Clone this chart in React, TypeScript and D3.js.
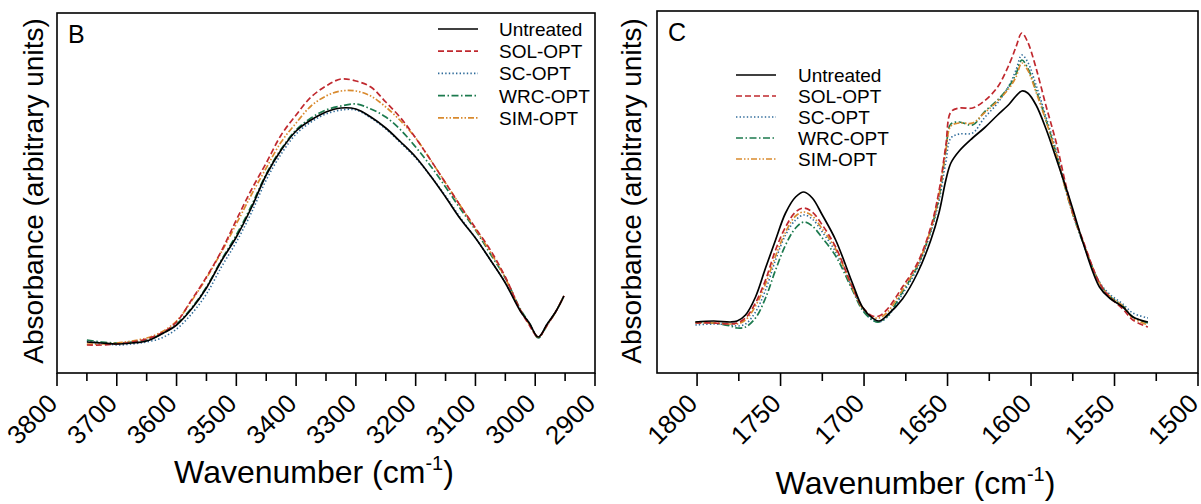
import React from 'react';
import * as d3 from 'd3';

// ---------- DATA ----------
const seriesNames = ['Untreated', 'SOL-OPT', 'SC-OPT', 'WRC-OPT', 'SIM-OPT'];

// Panel B (O–H / N–H stretching region), absorbance in arbitrary units
const wavenumberB = [3750, 3725, 3700, 3675, 3650, 3625, 3600, 3575, 3550, 3525, 3500, 3475, 3450, 3425, 3400, 3375, 3350, 3325, 3300, 3275, 3250, 3225, 3200, 3175, 3150, 3125, 3100, 3075, 3050, 3025, 3010, 2995, 2980, 2965, 2952];
const untreatedB = [31, 30, 29, 30, 32, 39, 48, 64, 85, 112, 136, 165, 198, 223, 242, 253, 261, 265, 264, 256, 245, 231, 216, 197, 176, 154, 135, 113, 90, 62, 50, 36, 49, 62, 77];
const solOptB = [28, 28, 29, 31, 34, 40, 51, 73, 96, 122, 153, 183, 210, 238, 258, 276, 287, 294, 292, 286, 271, 255, 235, 213, 190, 167, 145, 123, 96, 63, 48, 36, 48, 62, 77];
const scOptB = [32, 30, 28, 29, 31, 35, 44, 59, 79, 106, 131, 160, 193, 219, 239, 251, 259, 263, 263, 255, 244, 230, 215, 197, 177, 155, 135, 113, 90, 63, 50, 36, 49, 62, 77];
const wrcOptB = [33, 31, 30, 31, 33, 39, 49, 65, 86, 113, 138, 167, 199, 224, 243, 255, 263, 267, 269, 264, 256, 243, 226, 207, 186, 164, 143, 119, 95, 64, 50, 35, 48, 62, 77];
const simOptB = [29, 29, 30, 32, 35, 41, 52, 72, 95, 121, 149, 178, 205, 231, 250, 267, 277, 282, 282, 277, 266, 252, 235, 213, 190, 167, 144, 121, 95, 63, 49, 36, 48, 62, 77];

// Panel C (carbonyl / amide region)
const wavenumberC = [1801, 1790, 1780, 1776, 1771, 1765, 1759, 1753, 1747, 1741, 1736, 1731, 1725, 1717, 1707, 1701, 1695, 1691, 1686, 1677, 1668, 1660, 1655, 1651, 1648, 1643, 1635, 1628, 1620, 1613, 1609, 1605.5, 1602, 1597, 1591, 1585, 1579, 1575, 1569, 1559, 1553, 1545, 1539, 1530];
const untreatedC = [51, 52, 51, 52, 58, 76, 105, 133, 160, 176, 181, 175, 158, 133, 90, 66, 55, 52, 58, 74, 100, 133, 161, 193, 210, 222, 235, 245, 258, 269, 277, 282, 280, 268, 244, 215, 185, 164, 131, 86, 75, 66, 56, 51];
const solOptC = [50, 50, 49, 50, 55, 70, 93, 123, 146, 161, 165, 161, 148, 126, 86, 66, 57, 57, 64, 86, 110, 146, 183, 228, 261, 265, 265, 272, 286, 309, 326, 340, 331, 305, 267, 231, 187, 161, 133, 90, 76, 64, 53, 46];
const scOptC = [48, 49, 48, 47, 49, 61, 83, 113, 138, 153, 158, 154, 141, 121, 85, 64, 53, 51, 56, 79, 105, 141, 173, 211, 235, 239, 240, 255, 270, 288, 303, 318, 311, 288, 256, 223, 183, 159, 131, 91, 79, 69, 60, 55];
const wrcOptC = [51, 50, 47, 45, 46, 55, 75, 103, 128, 145, 151, 147, 135, 117, 83, 63, 53, 51, 57, 81, 107, 143, 177, 223, 249, 251, 248, 261, 273, 287, 299, 313, 305, 283, 253, 220, 182, 159, 131, 90, 77, 67, 56, 50];
const simOptC = [50, 50, 49, 49, 53, 67, 89, 117, 141, 157, 161, 157, 144, 124, 85, 65, 56, 55, 61, 83, 108, 144, 179, 223, 247, 250, 250, 260, 272, 285, 296, 310, 303, 281, 252, 219, 182, 159, 132, 90, 77, 67, 55, 48];

const majorTicksB = [3800, 3700, 3600, 3500, 3400, 3300, 3200, 3100, 3000, 2900];
const minorTicksB = [3750, 3650, 3550, 3450, 3350, 3250, 3150, 3050, 2950];
const majorTicksC = [1800, 1750, 1700, 1650, 1600, 1550, 1500];
const minorTicksC = [1775, 1725, 1675, 1625, 1575, 1525];

// ---------- STYLES ----------
const lineStyles = [
  { color: '#000000', dash: undefined as string | undefined, width: 1.7 },
  { color: '#c0282e', dash: '6,3', width: 1.7 },
  { color: '#2f6b9a', dash: '1.4,2.2', width: 1.6 },
  { color: '#1c7a4e', dash: '7,2.5,1.5,2.5', width: 1.7 },
  { color: '#d98a2e', dash: '6,2,1.5,2,1.5,2', width: 1.7 },
];
const drawOrder = [2, 3, 4, 1, 0];
const FONT = 'Arial, "Liberation Sans", Helvetica, sans-serif';

type PanelProps = {
  left: number; right: number; top: number; bottom: number;
  domain: [number, number];
  majors: number[]; minors: number[];
  wn: number[]; series: number[][];
  letter: string;
  legendLineX: number; legendTextX: number; legendY: number; legendGap: number;
  xLabelY: number; yLabelX: number;
};

function Panel(p: PanelProps) {
  const x = d3.scaleLinear().domain(p.domain).range([p.left, p.right]);
  const y = d3.scaleLinear().domain([0, 361]).range([p.bottom, p.bottom - 361]);
  const line = (vals: number[]) =>
    d3.line<number>()
      .x((_, i) => x(p.wn[i]))
      .y((d) => y(d))
      .curve(d3.curveCatmullRom.alpha(0.5))(vals) || '';
  const cx = (p.left + p.right) / 2 - 12;
  return (
    <g>
      {drawOrder.map((si) => (
        <path key={si} d={line(p.series[si])} fill="none" stroke={lineStyles[si].color}
          strokeWidth={lineStyles[si].width} strokeDasharray={lineStyles[si].dash}
          strokeLinejoin="round" />
      ))}
      <rect x={p.left} y={p.top} width={p.right - p.left} height={p.bottom - p.top}
        fill="none" stroke="#000" strokeWidth={1.6} />
      {p.majors.map((t) => (
        <line key={'M' + t} x1={x(t)} x2={x(t)} y1={p.bottom} y2={p.bottom + 13} stroke="#000" strokeWidth={1.6} />
      ))}
      {p.minors.map((t) => (
        <line key={'m' + t} x1={x(t)} x2={x(t)} y1={p.bottom} y2={p.bottom + 8} stroke="#000" strokeWidth={1.6} />
      ))}
      {p.majors.map((t) => (
        <text key={'l' + t} transform={`translate(${x(t) + 2},${p.bottom + 32}) rotate(-45)`}
          textAnchor="end" fontSize={26} fontFamily={FONT} fill="#000">{t}</text>
      ))}
      <text x={cx} y={p.xLabelY} textAnchor="middle" fontSize={32} fontFamily={FONT} fill="#000">
        Wavenumber (cm<tspan fontSize={20} dy={-13}>-1</tspan><tspan dy={13}>)</tspan>
      </text>
      <text transform={`translate(${p.yLabelX},${191}) rotate(-90)`} textAnchor="middle"
        fontSize={28} fontFamily={FONT} fill="#000">Absorbance (arbitrary units)</text>
      <text x={p.left + 11} y={p.top + 30} fontSize={25} fontFamily={FONT} fill="#000">{p.letter}</text>
      {seriesNames.map((name, i) => {
        const ly = p.legendY + i * p.legendGap;
        return (
          <g key={name}>
            <line x1={p.legendLineX} x2={p.legendLineX + 40} y1={ly} y2={ly}
              stroke={lineStyles[i].color} strokeWidth={lineStyles[i].width}
              strokeDasharray={lineStyles[i].dash} />
            <text x={p.legendTextX} y={ly + 7} fontSize={19} fontFamily={FONT} fill="#000">{name}</text>
          </g>
        );
      })}
    </g>
  );
}

export default function App() {
  return (
    <svg width={1201} height={504} viewBox="0 0 1201 504"
      style={{ position: 'absolute', left: 0, top: 0, background: '#fff' }}>
      <rect x={0} y={0} width={1201} height={504} fill="#fff" />
      <Panel left={57} right={595} top={13} bottom={373} domain={[3800, 2900]}
        majors={majorTicksB} minors={minorTicksB} wn={wavenumberB}
        series={[untreatedB, solOptB, scOptB, wrcOptB, simOptB]} letter="B"
        legendLineX={438} legendTextX={499} legendY={29} legendGap={22.2}
        xLabelY={483} yLabelX={43} />
      <Panel left={657} right={1198} top={11} bottom={373} domain={[1824, 1500]}
        majors={majorTicksC} minors={minorTicksC} wn={wavenumberC}
        series={[untreatedC, solOptC, scOptC, wrcOptC, simOptC]} letter="C"
        legendLineX={736} legendTextX={798} legendY={75} legendGap={21}
        xLabelY={494} yLabelX={641} />
    </svg>
  );
}
